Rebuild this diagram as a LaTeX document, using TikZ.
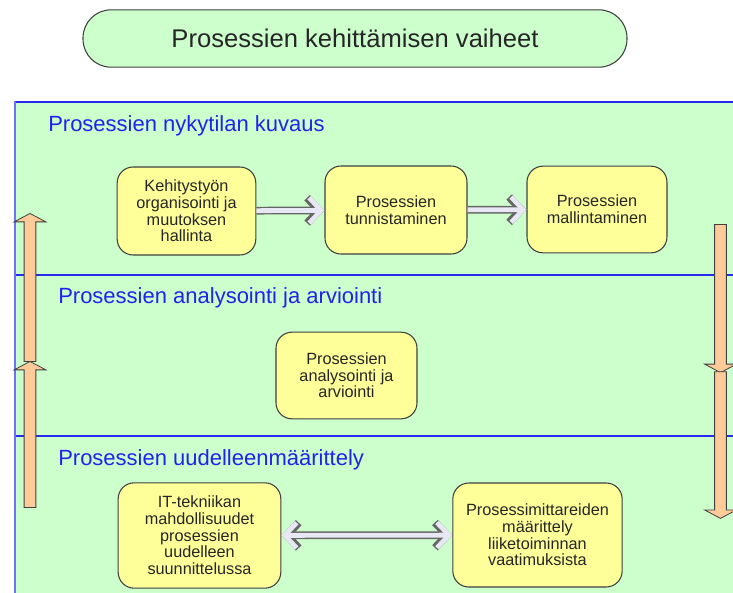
\documentclass[tikz,border=0pt]{standalone}
\usepackage{fontspec}
\setmainfont{Liberation Sans}
\usetikzlibrary{shapes,arrows.meta}

\definecolor{panelgreen}{HTML}{CCFFCC}
\definecolor{lineblue}{HTML}{2A2AEE}
\definecolor{leftblue}{HTML}{7070FF}
\definecolor{headblue}{HTML}{2222EE}
\definecolor{boxyellow}{HTML}{FFFF99}
\definecolor{boxline}{HTML}{404040}
\definecolor{boxtext}{HTML}{262626}
\definecolor{peach}{HTML}{FFCC99}
\definecolor{arrowfill}{HTML}{E8E8F4}

\tikzset{
  box/.style={shape=rectangle,rounded corners=12pt,draw=boxline,fill=boxyellow,line width=0.8pt,align=center,text=boxtext,inner sep=0pt,font=\fontsize{12.2}{12.5}\selectfont},
  titlebox/.style={shape=rectangle,rounded corners=21pt,draw=boxline,fill=panelgreen,line width=0.8pt,align=center,text=black!85,minimum width=408pt,minimum height=43pt,font=\fontsize{19.2}{22}\selectfont},
  heading/.style={anchor=base west,inner sep=0pt,text=headblue,font=\fontsize{16.5}{19}\selectfont},
  orangearrow/.style={single arrow,draw=boxline,fill=peach,line width=0.6pt,inner xsep=0pt,inner ysep=4.1pt,single arrow head extend=7.5pt,single arrow tip angle=124},
  barb/.tip={Straight Barb[length=9pt,width=19pt]},
  conn/.style={line width=3.6pt,draw=arrowfill,-barb,preaction={draw=boxline!80,line width=5.8pt}},
  dconn/.style={line width=3.6pt,draw=arrowfill,barb-barb,preaction={draw=boxline!80,line width=5.8pt}}
}

\begin{document}
\begin{tikzpicture}[x=0.75pt,y=-0.75pt]
\useasboundingbox (0,0) rectangle (733,593);
\clip (0,0) rectangle (733,593);

% panel with the three phases
\fill[panelgreen] (15,102) rectangle (745,600);
\draw[lineblue,line width=1.1pt] (15,102) -- (745,102);
\draw[lineblue,line width=1.1pt] (15,275) -- (745,275);
\draw[lineblue,line width=1.1pt] (15,436) -- (745,436);
\draw[leftblue,line width=2.2pt] (15,101) -- (15,600);

\node[titlebox] (6) at (355,38.5) {Prosessien kehittämisen vaiheet};
\node[heading] (7) at (48,131) {Prosessien nykytilan kuvaus};
\node[heading] (8) at (58,303) {Prosessien analysointi ja arviointi};
\node[heading] (9) at (58,465) {Prosessien uudelleenmäärittely};

\node[box,minimum width=104pt,minimum height=66pt] (0) at (186.5,211) {Kehitystyön\\organisointi ja\\muutoksen\\hallinta};
\node[box,minimum width=106.5pt,minimum height=66pt] (1) at (396,210) {Prosessien\\tunnistaminen};
\node[box,minimum width=105pt,minimum height=65pt] (2) at (597,209.5) {Prosessien\\mallintaminen};
\node[box,minimum width=105.75pt,minimum height=65pt] (3) at (346.5,375.5) {Prosessien\\analysointi ja\\arviointi};
\node[box,minimum width=122pt,minimum height=79pt] (4) at (199.5,535.5) {IT-tekniikan\\mahdollisuudet\\prosessien\\uudelleen\\suunnittelussa};
\node[box,minimum width=127pt,minimum height=78pt] (5) at (537.5,535) {Prosessimittareiden\\määrittely\\liiketoiminnan\\vaatimuksista};

\node[orangearrow,rotate=90,minimum height=111pt] (10) at (30,289) {};
\node[orangearrow,rotate=90,minimum height=109.5pt] (11) at (30,436) {};
\node[orangearrow,rotate=-90,minimum height=111pt] (12) at (720.5,297) {};
\node[orangearrow,rotate=-90,minimum height=110pt] (13) at (720.5,443.5) {};

\draw [conn] (0) -- (1);
\draw [conn] (1) -- (2);
\draw [dconn] (4) -- (5);
\end{tikzpicture}
\end{document}
